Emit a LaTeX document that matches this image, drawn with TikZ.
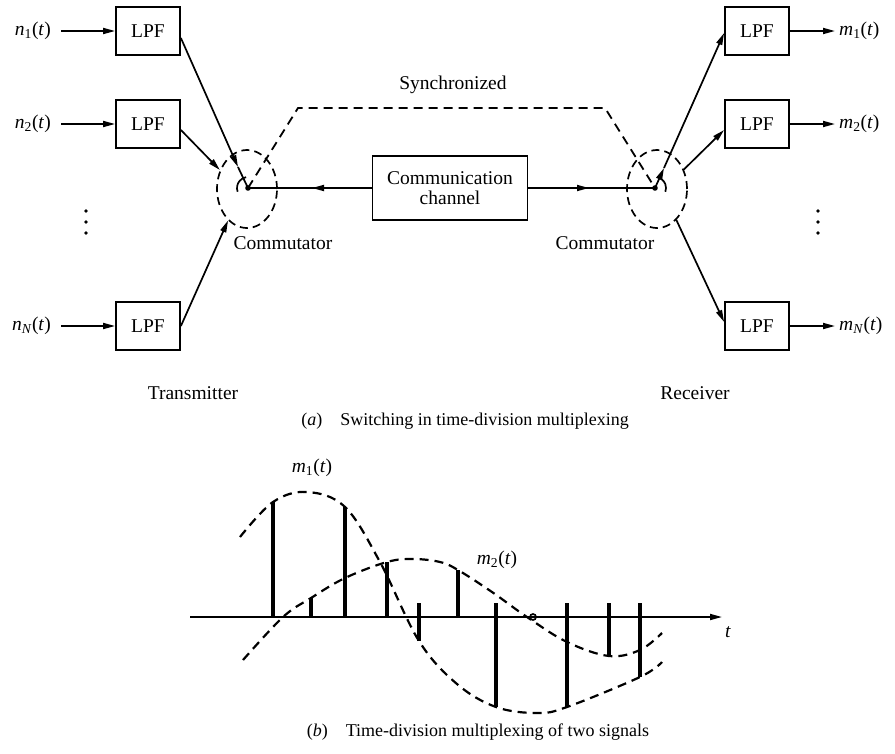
\documentclass[tikz,border=0pt]{standalone}
\usepackage{fontspec}
\setmainfont{Liberation Serif}
\usetikzlibrary{arrows.meta,shapes.geometric}
\begin{document}
\begin{tikzpicture}[x=1pt,y=-1pt,
  every node/.style={font=\fontsize{19.5}{22}\selectfont, inner sep=1pt},
  lpfbox/.style={draw, line width=1.8pt, minimum width=64pt, minimum height=48pt, inner sep=0pt},
  chbox/.style={draw, line width=1.8pt, minimum width=155pt, minimum height=64pt, align=center, inner sep=0pt},
  comm/.style={ellipse, draw, line width=1.7pt, dash pattern=on 8pt off 5pt, minimum width=60pt, minimum height=78pt, inner sep=0pt},
  sig/.style={line width=1.7pt},
  tip/.style={-{Triangle[length=12pt,width=6pt]}},
  dsh/.style={line width=1.8pt, dash pattern=on 9pt off 6pt},
  curve/.style={line width=2.2pt, dash pattern=on 9pt off 6pt},
  bar/.style={line width=3.2pt},
  captext/.style={font=\fontsize{18}{21}\selectfont},
]
\useasboundingbox (0,0) rectangle (895,753);

% ---- (a) transmitter side ----
\node[lpfbox] (l1) at (148,31) {LPF};
\node[lpfbox] (l2) at (148,124) {LPF};
\node[lpfbox] (lN) at (148,326) {LPF};
\node[anchor=east] (n1) at (52,31) {\textit{n}\textsubscript{1}(\textit{t})};
\node[anchor=east] (n2) at (52,124) {\textit{n}\textsubscript{2}(\textit{t})};
\node[anchor=east] (nN) at (52,326) {\textit{n}\textsubscript{\textit{N}}(\textit{t})};
\draw[sig,tip,shorten <=9pt] (n1) -- (l1);
\draw[sig,tip,shorten <=9pt] (n2) -- (l2);
\draw[sig,tip,shorten <=9pt] (nN) -- (lN);
\foreach \yy in {211,222,233} \fill (86,\yy) circle (1.8);

\node[comm] (cl) at (247,189) {};
\coordinate (pl) at (248,188);
\coordinate (kl) at (238,167);
\fill (pl) circle (2.8);
\draw[sig,tip] ([yshift=-7pt]l1.east) -- (kl);
\draw[sig] (kl) -- (pl);
\draw[sig] ([shift={(160:11)}]pl) arc[start angle=160, end angle=260, radius=11];
\draw[sig,tip] ([yshift=-6pt]l2.east) -- (cl.145);
\draw[sig,tip] (lN.east) -- (cl.239);
\node (cml) at (283,243) {Commutator};
\node (tx) at (193,393) {Transmitter};

% ---- channel and synchronisation ----
\node[chbox] (ch) at (450,188) {Communication\\[-2pt]channel};
\coordinate (al) at (312,188);
\coordinate (ar) at (589,188);
\draw[sig] (ch.west) -- (pl);
\draw[sig,tip] (ch.west) -- (al);
\coordinate (pr) at (655,188);
\draw[sig] (ch.east) -- (pr);
\draw[sig,tip] (ch.east) -- (ar);
\coordinate (sa) at (298,108);
\coordinate (sb) at (605,108);
\draw[dsh] (pl) -- (sa) -- (sb) -- (pr);
\node (sync) at (453,85) {Synchronized};

% ---- receiver side ----
\node[comm] (cr) at (657,189) {};
\coordinate (kr) at (664,168);
\fill (pr) circle (2.8);
\draw[sig] ([shift={(-80:11)}]pr) arc[start angle=-80, end angle=20, radius=11];
\draw[sig,tip] (pr) -- (kr);
\node[lpfbox] (r1) at (757,31) {LPF};
\node[lpfbox] (r2) at (757,124) {LPF};
\node[lpfbox] (rN) at (757,326) {LPF};
\draw[sig,tip] (kr) -- ([yshift=-2pt]r1.west);
\draw[sig,tip] (cr.36) -- ([yshift=-6pt]r2.west);
\draw[sig,tip] (cr.-58) -- ([yshift=4pt]rN.west);
\node[anchor=west] (m1) at (838,31) {\textit{m}\textsubscript{1}(\textit{t})};
\node[anchor=west] (m2) at (838,124) {\textit{m}\textsubscript{2}(\textit{t})};
\node[anchor=west] (mN) at (838,326) {\textit{m}\textsubscript{\textit{N}}(\textit{t})};
\draw[sig,tip,shorten >=3pt] (r1) -- (m1);
\draw[sig,tip,shorten >=3pt] (r2) -- (m2);
\draw[sig,tip,shorten >=3pt] (rN) -- (mN);
\foreach \yy in {211,222,233} \fill (818,\yy) circle (1.8);
\node (cmr) at (605,243) {Commutator};
\node (rx) at (695,393) {Receiver};

\node[captext] (capa) at (465,421) {(\textit{a})\quad Switching in time-division multiplexing};

% ---- (b) sampled waveforms ----
\coordinate (ax0) at (190,617);
\coordinate (ax1) at (722,617);
\draw[sig,tip] (ax0) -- (ax1);
\node (tl) at (728,632) {\textit{t}};

\draw[curve] plot[smooth, tension=0.6] coordinates {
  (240,537) (273,502) (307,492) (345,507) (380,562) (419,641) (457,684)
  (496,707) (537,713) (567,707) (640,677) (662,662)};
\draw[curve] plot[smooth, tension=0.6] coordinates {
  (243,660) (283,617) (311,598) (345,578) (387,562) (413,559) (440,562)
  (458,570) (492,592) (527,617) (567,642) (609,656) (640,650) (662,633)};

% positive samples rise from the axis
\foreach \xx/\yy in {273/502, 311/598, 345/507, 387/562, 458/570}
  \draw[bar] (\xx,617) -- (\xx,\yy);
% negative samples, with a short tick above the axis
\foreach \xx/\yy in {419/641, 496/707, 567/707, 609/656, 640/677}
  \draw[bar] (\xx,603) -- (\xx,\yy);
\draw[sig] (533,617) circle (3);

\node (lm1) at (312,468) {\textit{m}\textsubscript{1}(\textit{t})};
\node (lm2) at (497,560) {\textit{m}\textsubscript{2}(\textit{t})};
\node[captext] (capb) at (478,732) {(\textit{b})\quad Time-division multiplexing of two signals};
\end{tikzpicture}
\end{document}
